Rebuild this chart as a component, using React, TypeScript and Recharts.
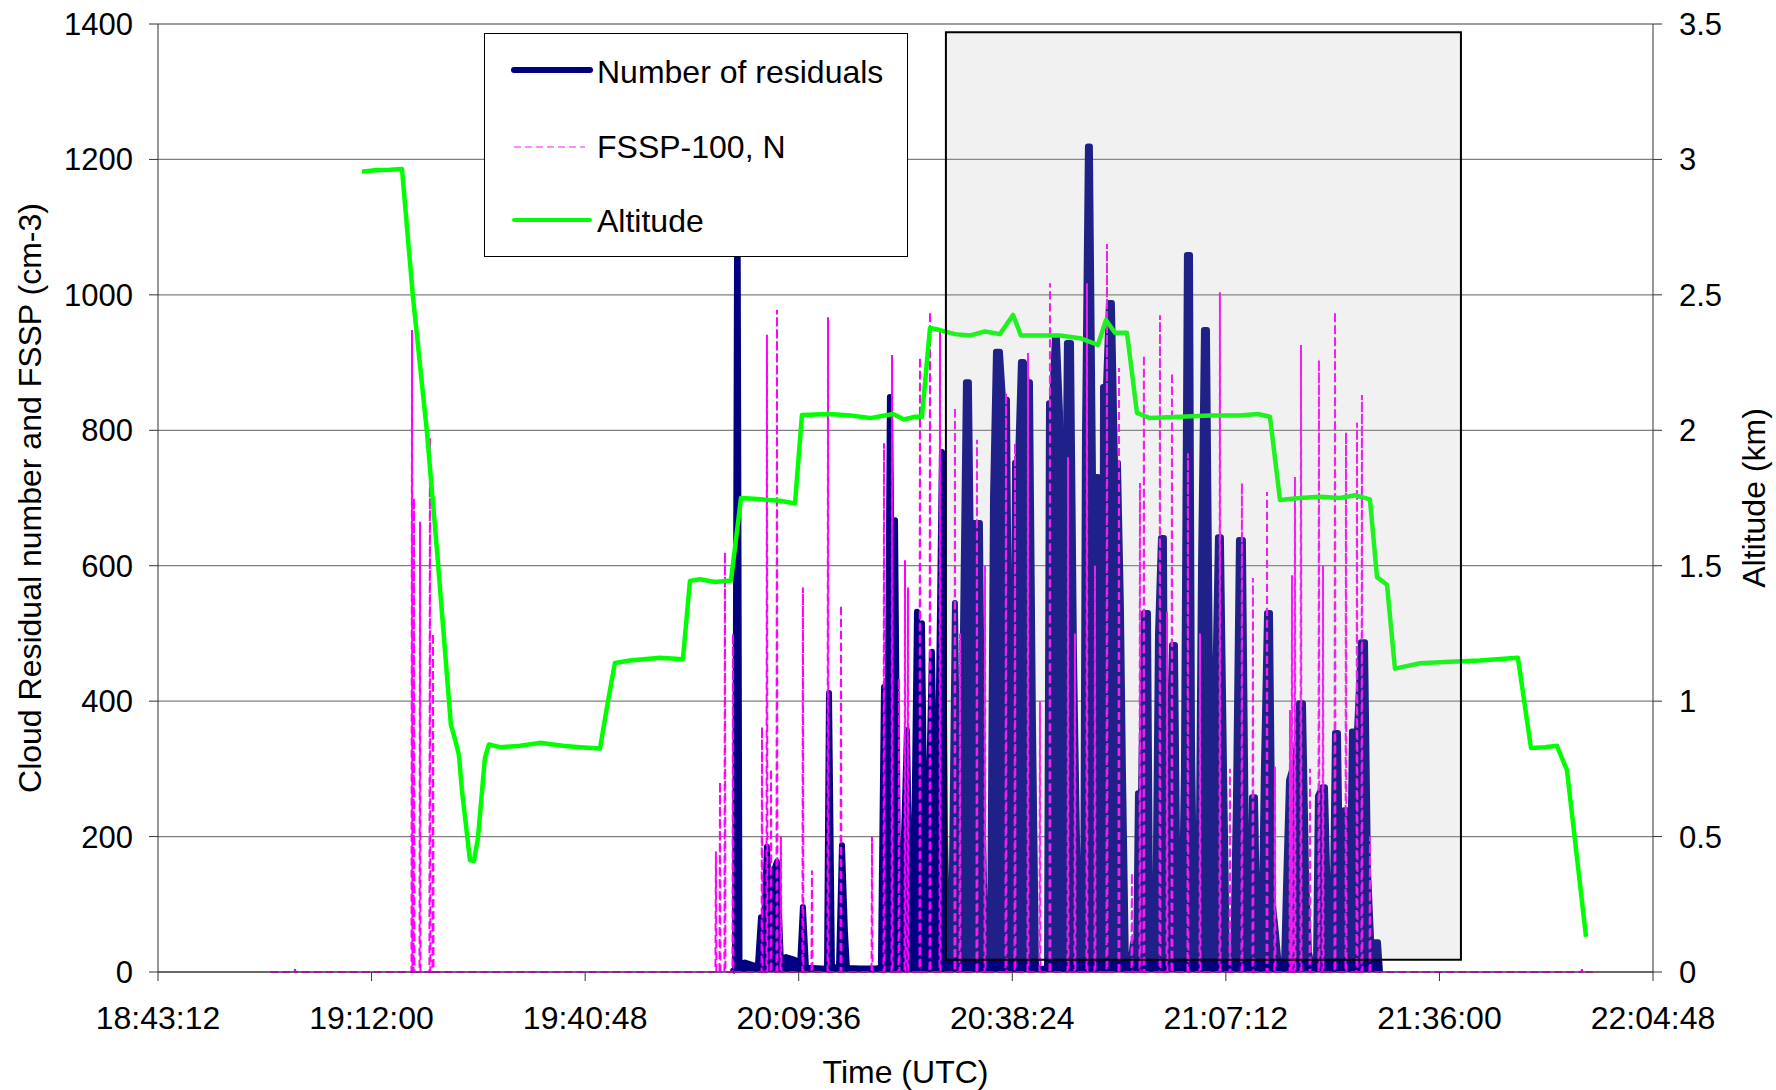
import React from 'react';
import {
  ComposedChart,
  Area,
  Line,
  XAxis,
  YAxis,
  CartesianGrid,
  ReferenceArea,
  Legend,
} from 'recharts';

// time axis labels (UTC)
const xTickLabels = ['18:43:12', '19:12:00', '19:40:48', '20:09:36', '20:38:24', '21:07:12', '21:36:00', '22:04:48'];
const leftTicks = [0, 200, 400, 600, 800, 1000, 1200, 1400];
const rightTicks = [0, 0.5, 1, 1.5, 2, 2.5, 3, 3.5];

// Number of residuals (times in seconds after midnight UTC)
const residualTime = [
  72036, 72060, 72080, 72097, 72141, 72222, 72246, 72271, 72295, 72319, 72352, 72376, 72400, 72432, 72473,
  72546, 72586, 72610, 72635, 72683, 72764, 72805, 72821, 72845, 72902, 72926, 72950, 72966, 73072, 73209,
  73241, 73266, 73290, 73314, 73339, 73355, 73379, 73403, 73428, 73452, 73476, 73508, 73533, 73557, 73573,
  73597, 73622, 73654, 73678, 73703, 73735, 73759, 73784,
  73808, 73840, 73864, 73889, 73905, 73929, 73953, 73970, 73986, 74042, 74067, 74091,
  74123, 74148, 74172, 74204, 74229, 74261, 74285, 74301,
  74326, 74350, 74374, 74398, 74423, 74447, 74471, 74496, 74544,
  74585, 74601, 74625, 74649, 74665, 74690, 74714, 74746, 74779, 74803, 74827, 74852,
  74876, 74892, 74916, 74932, 74957, 74997, 75013, 75030,
  75038, 75062, 75086, 75110, 75135, 75159, 75183, 75199, 75224,
  75256, 75280, 75305, 75321, 75345, 75369, 75402, 75418, 75442,
  75458, 75483, 75507, 75531, 75547, 75572, 75596, 75620, 75645, 75669, 75693, 75717, 75742, 75758, 75782,
  75806, 75831, 75855, 75879, 75903, 75920, 75944, 75968, 75992, 76017, 76041,
  76090, 76114, 76138, 76170, 76195, 76211, 76227, 76243, 76268, 76292,
  76316, 76340, 76365, 76389, 76413, 76437, 76462,
  76502, 76518, 76543, 76567, 76591, 76624, 76656, 76680, 76704, 76729,
  76761, 76777, 76810, 76834, 76858, 76874,
  76891, 76915, 76939, 76963, 76988, 77012, 77036, 77052, 77093, 77125, 77158, 77182, 77214, 77238, 77263, 77279,
];
const residualValue = [
  0, 5, 1250, 10, 14, 9, 10, 81, 60, 185, 40, 150, 163, 14, 22,
  18, 6, 96, 6, 6, 5, 5, 412, 6, 8, 187, 60, 6, 5, 5,
  8, 421, 200, 849, 350, 667, 150, 80, 200, 357, 100, 150, 532, 300, 515,
  150, 200, 473, 200, 300, 768, 200, 6,
  8, 545, 200, 6, 500, 871, 871, 600, 663, 663, 200, 6,
  6, 700, 916, 916, 845, 845, 300, 8,
  752, 752, 901, 901, 871, 871, 372, 6, 5,
  6, 840, 840, 938, 938, 826, 300, 929, 929, 471, 200, 6,
  6, 790, 1219, 1219, 731, 731, 100, 8,
  864, 864, 988, 988, 752, 752, 539, 300, 6,
  6, 43, 6, 264, 264, 530, 530, 100, 6,
  6, 500, 641, 641, 8, 300, 483, 483, 40, 8, 300, 1059, 1059, 340, 6,
  6, 600, 948, 948, 441, 8, 400, 642, 642, 300, 6,
  6, 257, 638, 638, 155, 6, 6, 258, 258, 6,
  6, 300, 530, 530, 100, 58, 6,
  6, 121, 283, 298, 298, 397, 397, 150, 30, 6,
  6, 260, 273, 273, 100, 6,
  6, 353, 353, 50, 239, 239, 120, 355, 355, 487, 487, 150, 20, 44, 44, 0,
];

// FSSP-100, N
const fsspTime = [
  68300, 68496, 68500, 68504,
  69443, 69447, 69451, 69459, 69463, 69467, 69508, 69512, 69516, 69588, 69592, 69596, 69613, 69617, 69621,
  71902, 71906, 71910, 71935, 71939, 71943, 71975, 71979, 71983, 72040, 72044, 72048,
  72275, 72279, 72283, 72315, 72319, 72323, 72348, 72352, 72356, 72396, 72400, 72404, 72428, 72432, 72436,
  72606, 72610, 72614, 72679, 72683, 72687, 72809, 72813, 72817, 72914, 72918, 72922,
  73165, 73169, 73173, 73262, 73266, 73270, 73327, 73331, 73335, 73383, 73387, 73391, 73432, 73436, 73440,
  73456, 73460, 73464, 73553, 73557, 73561, 73634, 73638, 73642, 73715, 73719, 73723,
  73836, 73840, 73844, 73877, 73881, 73885, 74014, 74018, 74022, 74079, 74083, 74087,
  74249, 74253, 74257, 74322, 74326, 74330, 74427, 74431, 74435, 74524, 74528, 74532,
  74605, 74609, 74613, 74751, 74755, 74759, 74807, 74811, 74815, 74904, 74908, 74912, 74969, 74973, 74977,
  75066, 75070, 75074, 75163, 75167, 75171, 75268, 75272, 75276, 75333, 75337, 75341, 75365, 75369, 75373,
  75495, 75499, 75503, 75552, 75556, 75560, 75592, 75596, 75600, 75721, 75725, 75729, 75819, 75823, 75827,
  75980, 75984, 75988, 76061, 76065, 76069, 76158, 76162, 76166, 76247, 76251, 76255, 76361, 76365, 76369,
  76425, 76429, 76433, 76547, 76551, 76555, 76563, 76567, 76571, 76587, 76591, 76595, 76636, 76640, 76644,
  76709, 76713, 76717, 76781, 76785, 76789, 76814, 76818, 76822, 76911, 76915, 76919, 77000, 77004, 77008,
  77089, 77093, 77097, 77129, 77133, 77137, 77194, 77198, 77202,
  78909, 78913, 78917, 79000,
];
const fsspValue = [
  0, 0, 4, 0,
  0, 948, 0, 0, 700, 0, 0, 665, 0, 0, 789, 0, 0, 500, 0,
  0, 178, 0, 0, 281, 0, 0, 620, 0, 0, 500, 0,
  0, 362, 0, 0, 941, 0, 0, 300, 0, 0, 978, 0, 0, 200, 0,
  0, 568, 0, 0, 150, 0, 0, 967, 0, 0, 542, 0,
  0, 200, 0, 0, 781, 0, 0, 911, 0, 0, 434, 0, 0, 608, 0,
  0, 568, 0, 0, 908, 0, 0, 975, 0, 0, 948, 0,
  0, 834, 0, 0, 500, 0, 0, 786, 0, 0, 600, 0,
  0, 855, 0, 0, 781, 0, 0, 914, 0, 0, 400, 0,
  0, 1017, 0, 0, 760, 0, 0, 500, 0, 0, 1017, 0, 0, 600, 0,
  0, 1075, 0, 0, 892, 0, 0, 146, 0, 0, 722, 0, 0, 911, 0,
  0, 970, 0, 0, 532, 0, 0, 885, 0, 0, 766, 0, 0, 500, 0,
  0, 1004, 0, 0, 300, 0, 0, 722, 0, 0, 582, 0, 0, 709, 0,
  0, 303, 0, 0, 387, 0, 0, 586, 0, 0, 731, 0, 0, 926, 0,
  0, 300, 0, 0, 904, 0, 0, 600, 0, 0, 975, 0, 0, 797, 0,
  0, 811, 0, 0, 852, 0, 0, 200, 0,
  0, 4, 0, 0,
];

// Altitude (km)
const altTime = [
  69042, 69147, 69269, 69366, 69455, 69568, 69649, 69762, 69795, 69827, 69851, 69916, 69948, 69981, 70037,
  70070, 70159, 70321, 70482, 70669, 70806, 70968, 71033, 71089, 71211, 71453, 71639, 71696, 71777, 71898,
  72028, 72109, 72271, 72424, 72546, 72602, 72829, 72991, 73153, 73339, 73428, 73517, 73573, 73638, 73719,
  73840, 73962, 74083, 74204, 74310, 74374, 74528, 74690, 74852, 74997, 75062, 75135, 75232, 75313, 75418,
  75661, 75903, 76146, 76292, 76389, 76470, 76632, 76793, 76955, 77077, 77198, 77255, 77336, 77400, 77603,
  77845, 78088, 78395, 78501, 78614, 78711, 78792, 78946,
];
const altKm = [
  2.955, 2.96, 2.962, 2.965, 2.492, 1.994, 1.558, 0.912, 0.86, 0.8, 0.672, 0.413, 0.41, 0.495, 0.79,
  0.84, 0.83, 0.835, 0.846, 0.835, 0.83, 0.825, 1.0, 1.141, 1.15, 1.16, 1.155, 1.444, 1.45, 1.44,
  1.445, 1.75, 1.745, 1.74, 1.73, 2.056, 2.06, 2.055, 2.045, 2.06, 2.04, 2.05, 2.05, 2.378, 2.37,
  2.355, 2.35, 2.365, 2.355, 2.426, 2.35, 2.35, 2.35, 2.34, 2.315, 2.407, 2.36, 2.36, 2.064, 2.045,
  2.05, 2.055, 2.055, 2.06, 2.05, 1.743, 1.75, 1.755, 1.75, 1.76, 1.745, 1.458, 1.43, 1.12, 1.14,
  1.145, 1.15, 1.16, 0.827, 0.83, 0.835, 0.745, 0.13,
];

// shaded period box
const boxStart = '20:29:27';
const boxEnd = '21:38:54';
const boxLow = 18;
const boxHigh = 1388;

const legendLabels = ['Number of residuals', 'FSSP-100, N', 'Altitude'];

const toSec = (s: string) => {
  const [h, m, sec] = s.split(':').map(Number);
  return h * 3600 + m * 60 + sec;
};
const pad = (n: number) => String(n).padStart(2, '0');
const fmtTime = (v: number) => {
  const s = Math.round(v);
  return `${pad(Math.floor(s / 3600))}:${pad(Math.floor((s % 3600) / 60))}:${pad(s % 60)}`;
};

const xTicks = xTickLabels.map(toSec);
const residualData = residualTime.map((t, i) => ({ t, v: residualValue[i] }));
const fsspData = fsspTime.map((t, i) => ({ t, v: fsspValue[i] }));
const altData = altTime.map((t, i) => ({ t, v: altKm[i] }));

const FONT = '"Liberation Sans", Arial, Helvetica, sans-serif';

const LegendBox = () => {
  const rowBase = [49, 124, 198];
  const rowMid = [36, 113, 186];
  return (
    <div
      style={{
        width: 424,
        height: 224,
        boxSizing: 'border-box',
        border: '1.5px solid #000',
        background: '#fff',
      }}
    >
      <svg width={421} height={221} style={{ display: 'block' }}>
        <line x1={29} x2={105} y1={rowMid[0]} y2={rowMid[0]} stroke="#000080" strokeWidth={6} strokeLinecap="round" />
        <line x1={29} x2={100} y1={rowMid[1]} y2={rowMid[1]} stroke="#ff66ff" strokeWidth={1.5} strokeDasharray="7 4" />
        <line x1={29} x2={105} y1={rowMid[2]} y2={rowMid[2]} stroke="#00ff00" strokeWidth={4} strokeLinecap="round" />
        {legendLabels.map((label, i) => (
          <text key={label} x={112} y={rowBase[i]} fontSize={32} fill="#000" fontFamily={FONT}>
            {label}
          </text>
        ))}
      </svg>
    </div>
  );
};

export default function App() {
  return (
    <div style={{ position: 'absolute', left: 0, top: 0, width: 1776, height: 1090, background: '#fff', fontFamily: FONT }}>
      <ComposedChart width={1776} height={1090} margin={{ top: 24, right: 0, bottom: 0, left: 0 }}>
        <CartesianGrid yAxisId="left" vertical={false} stroke="#7f7f7f" strokeWidth={1.3} />
        <XAxis
          dataKey="t"
          type="number"
          domain={[xTicks[0], xTicks[xTicks.length - 1]]}
          ticks={xTicks}
          interval={0}
          allowDataOverflow
          tickFormatter={fmtTime}
          height={118}
          tickSize={9}
          tickMargin={25}
          stroke="#333"
          tick={{ fill: '#000', fontSize: 32 }}
          label={{ value: 'Time (UTC)', position: 'insideBottom', offset: 7, fill: '#000', fontSize: 32 }}
        />
        <YAxis
          yAxisId="left"
          width={158}
          domain={[0, 1400]}
          ticks={leftTicks}
          interval={0}
          tickSize={9}
          tickMargin={16}
          stroke="#333"
          tick={{ fill: '#000', fontSize: 31 }}
          label={{
            value: 'Cloud Residual number and FSSP (cm-3)',
            angle: -90,
            position: 'insideLeft',
            offset: 30,
            fill: '#000',
            fontSize: 32,
            style: { textAnchor: 'middle' },
          }}
        />
        <YAxis
          yAxisId="right"
          orientation="right"
          width={123}
          domain={[0, 3.5]}
          ticks={rightTicks}
          interval={0}
          tickSize={9}
          tickMargin={17}
          stroke="#333"
          tick={{ fill: '#000', fontSize: 31 }}
          label={{
            value: 'Altitude (km)',
            angle: -90,
            position: 'insideRight',
            offset: 22,
            fill: '#000',
            fontSize: 32,
            style: { textAnchor: 'middle' },
          }}
        />
        <Area
          yAxisId="left"
          data={residualData}
          dataKey="v"
          name="Number of residuals"
          type="linear"
          stroke="#000080"
          strokeWidth={6}
          strokeLinejoin="round"
          fill="#000080"
          fillOpacity={1}
          dot={false}
          activeDot={false}
          isAnimationActive={false}
        />
        <Line
          yAxisId="left"
          data={fsspData}
          dataKey="v"
          name="FSSP-100, N"
          type="linear"
          stroke="#ff00ff"
          strokeWidth={2}
          strokeDasharray="8 4"
          dot={false}
          activeDot={false}
          isAnimationActive={false}
        />
        <Line
          yAxisId="right"
          data={altData}
          dataKey="v"
          name="Altitude"
          type="linear"
          stroke="#00ff00"
          strokeWidth={4.5}
          strokeLinejoin="round"
          dot={false}
          activeDot={false}
          isAnimationActive={false}
        />
        <ReferenceArea
          yAxisId="left"
          x1={toSec(boxStart)}
          x2={toSec(boxEnd)}
          y1={boxLow}
          y2={boxHigh}
          fill="#b0b0b0"
          fillOpacity={0.18}
          stroke="#000"
          strokeWidth={2}
          ifOverflow="visible"
          zIndex={900}
        />
        <Legend
          layout="horizontal"
          verticalAlign="middle"
          align="center"
          width={424}
          height={224}
          content={<LegendBox />}
          wrapperStyle={{ left: 484, top: 33, width: 424, height: 224 }}
        />
      </ComposedChart>
    </div>
  );
}
